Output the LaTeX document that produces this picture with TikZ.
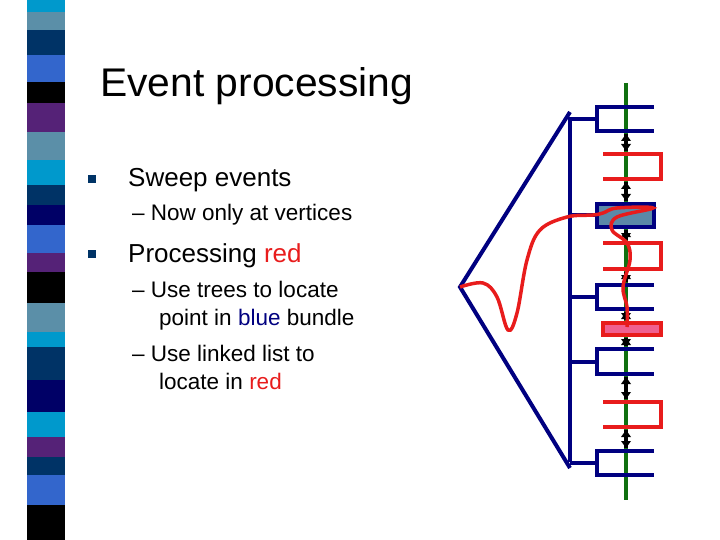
\documentclass[tikz,border=0pt]{standalone}
\usepackage{fontspec}
\setmainfont{Liberation Sans}
\definecolor{nv}{HTML}{000080}
\definecolor{rd}{HTML}{E81C1C}
\definecolor{gr}{HTML}{107010}
\definecolor{fb}{HTML}{5B89A8}
\definecolor{pk}{HTML}{F06090}
\definecolor{sA}{HTML}{0099CC}\definecolor{sB}{HTML}{5B8FA8}\definecolor{sC}{HTML}{003366}
\definecolor{sD}{HTML}{3366CC}\definecolor{sE}{HTML}{000000}\definecolor{sF}{HTML}{552277}
\definecolor{sG}{HTML}{000066}
\begin{document}
\begin{tikzpicture}[x=1pt,y=-1pt,
  bl/.style={draw=nv,line width=4pt},
  rl/.style={draw=rd,line width=4pt},
  txt/.style={anchor=base west,inner sep=0pt}]
\useasboundingbox (0,0) rectangle (720,540);
\foreach \a/\b/\c in {0/12/sA,12/30/sB,30/55/sC,55/82/sD,82/103/sE,103/132/sF,132/160/sB,160/185/sA,185/205/sC,205/225/sG,225/253/sD,253/272/sF,272/303/sE,303/332/sB,332/347/sA,347/380/sC,380/412/sG,412/437/sA,437/457/sF,457/475/sC,475/505/sD,505/540/sE}
  \fill[\c] (27,\a) rectangle (65,\b);
\node[txt,font=\fontsize{40}{44}\selectfont,xscale=1.02] (title) at (100,97) {Event processing};
\fill[sC] (88,175) rectangle (96,183);
\fill[sC] (88,250) rectangle (96,258);
\node[txt,font=\fontsize{26}{30}\selectfont] (b1) at (128,187) {Sweep events};
\node[txt,font=\fontsize{22.5}{26}\selectfont] (s1) at (132,221) {– Now only at vertices};
\node[txt,font=\fontsize{26}{30}\selectfont] (b2) at (128,262) {Processing \textcolor{rd}{red}};
\node[txt,font=\fontsize{22.5}{26}\selectfont] (s2) at (132,297) {– Use trees to locate};
\node[txt,font=\fontsize{22.5}{26}\selectfont] (s2b) at (159,325) {point in \textcolor{nv}{blue} bundle};
\node[txt,font=\fontsize{22.5}{26}\selectfont] (s3) at (132,361) {– Use linked list to};
\node[txt,font=\fontsize{22.5}{26}\selectfont] (s3b) at (159,389) {locate in \textcolor{rd}{red}};
\coordinate (gt) at (626,83); \coordinate (gb) at (626,500);
\draw[gr,line width=3.5pt] (gt) -- (gb);
\coordinate (ap) at (460,287); \coordinate (tt) at (570,112); \coordinate (tb) at (570,468);
\draw[bl,line join=miter] (tt) -- (ap) -- (tb);
\draw[bl] (570,117) -- (570,462);
\foreach \y in {119,215,297,362,463} \draw[bl] (570,\y) -- (597,\y);
\foreach \t/\b in {107/131,285/309,349/374,451/475}
  \draw[bl] (654,\t) -- (597,\t) -- (597,\b) -- (654,\b);
\draw[bl,fill=fb] (597,204) rectangle (654,227);
\foreach \t/\b in {154/179,243/269,402/427}
  \draw[rl] (603,\t) -- (661,\t) -- (661,\b) -- (603,\b);
\draw[rl,fill=pk] (603,323) rectangle (661,335);
\foreach \a/\b in {134/151,182/201,230/240,272/282,312/320,338/346,377/399,430/448}{
  \fill[black] (624,\a) rectangle (628,\b);
  \fill[black] (626,\a) -- ++(-5,7) -- ++(10,0) -- cycle;
  \fill[black] (626,\b) -- ++(-5,-7) -- ++(10,0) -- cycle;}
\draw[rd,line width=3.5pt] plot[smooth,tension=0.6] coordinates {(460,287) (483,283) (497,297) (508,330) (517,313) (527,260) (540,230) (567,217) (593,215) (603,213) (617,208) (653,208) (617,217) (612,230) (627,243) (630,260) (623,287) (627,307) (627,327)};
\end{tikzpicture}
\end{document}
